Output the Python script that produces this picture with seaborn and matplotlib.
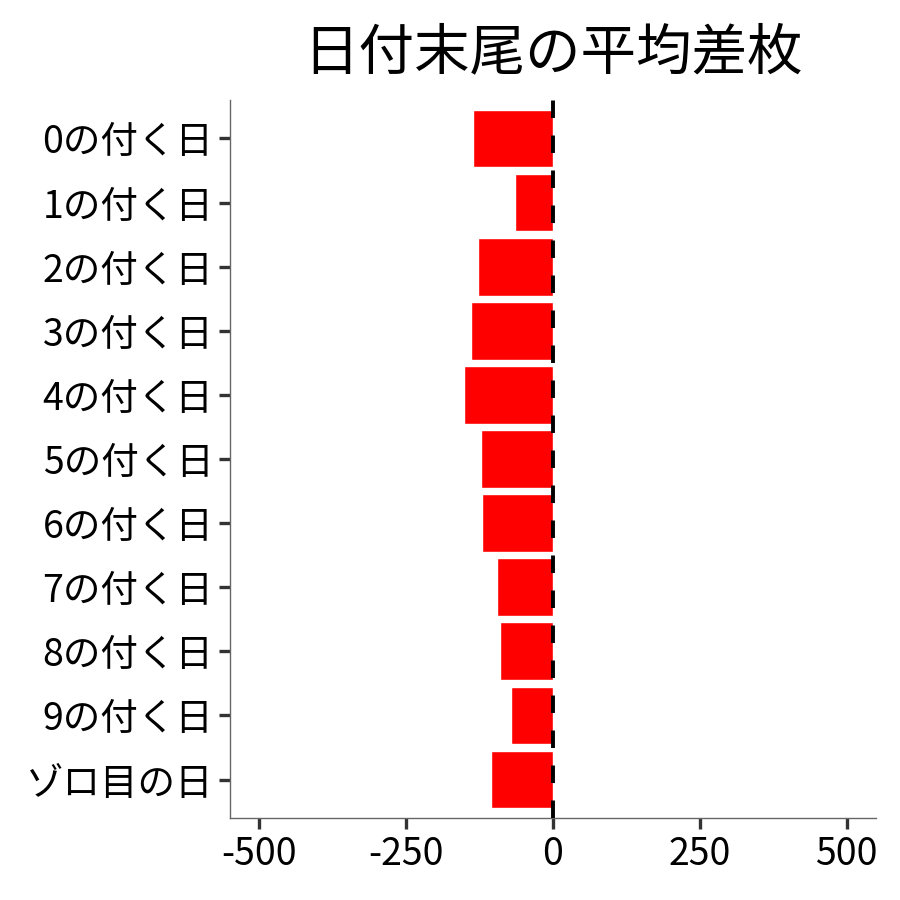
import matplotlib
matplotlib.use("Agg")
import matplotlib.pyplot as plt
import seaborn as sns
import pandas as pd

categories = ["0の付く日", "1の付く日", "2の付く日", "3の付く日", "4の付く日",
              "5の付く日", "6の付く日", "7の付く日", "8の付く日", "9の付く日", "ゾロ目の日"]
values = [-137, -65, -128, -139, -151, -122, -121, -95, -90, -72, -106]
xticks = [-500, -250, 0, 250, 500]

sns.set_theme(style="white")
plt.rcParams['font.family'] = ['Noto Sans CJK JP', 'DejaVu Sans']

df = pd.DataFrame({"cat": categories, "val": values})

fig = plt.figure(figsize=(9, 9), dpi=100)
ax = fig.add_axes([230/900, 1-818/900, (876-230)/900, (818-100)/900])
sns.barplot(data=df, x="val", y="cat", order=categories, color="#FF0000",
            saturation=1, width=0.9, ax=ax, orient="h")
ax.axvline(0, color="black", linewidth=2.8, linestyle=(0, (4.5, 4.5)), zorder=5)
ax.set_xlim(-550, 550)
ax.set_ylim(10.6, -0.6)
ax.set_xticks(xticks)
ax.set_xticklabels([str(v) for v in xticks])
ax.set_xlabel("")
ax.set_ylabel("")
for s in ["top", "right"]:
    ax.spines[s].set_visible(False)
for s in ["left", "bottom"]:
    ax.spines[s].set_color("#666666")
    ax.spines[s].set_linewidth(1.0)
ax.tick_params(axis="both", which="both", length=8, width=2.4, color="#333333",
               labelsize=27, labelcolor="black", left=True, bottom=True)
ax.tick_params(axis="y", pad=4)
ax.tick_params(axis="x", pad=4)
ax.set_title("日付末尾の平均差枚", fontsize=40, pad=22, color="black")
fig.savefig("out.png", dpi=100)
